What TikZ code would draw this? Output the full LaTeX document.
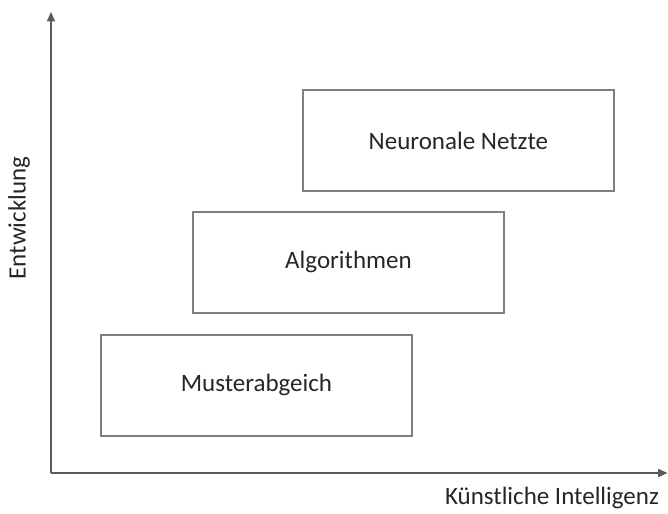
\documentclass[tikz,border=0pt]{standalone}
\usepackage{fontspec}
\setmainfont{Carlito}
\usetikzlibrary{arrows.meta}
\definecolor{boxline}{HTML}{7F7F7F}
\definecolor{axisline}{HTML}{5A5A5A}
\definecolor{txt}{HTML}{262626}
\begin{document}
\begin{tikzpicture}[x=0.75pt,y=-0.75pt,
  stage/.style={draw=boxline,line width=1.4pt,minimum width=311*0.75pt,
    minimum height=101*0.75pt,inner sep=0pt,text=txt,anchor=north west,
    font=\fontsize{18.75}{22}\selectfont},
  axis/.style={draw=axisline,line width=1.2pt,-{Triangle[length=7pt,width=6pt]}},
  axislabel/.style={text=txt,font=\fontsize{18.75}{22}\selectfont,inner sep=0pt}]
  \useasboundingbox (0,0) rectangle (668,514);
  % axes
  \coordinate (origin) at (51,473);
  \coordinate (ytop) at (51,12);
  \coordinate (xend) at (667.5,473);
  \draw[axis] (origin) -- (ytop);
  \draw[axis] (origin) -- (xend);
  % stages of development
  \node[stage] (nn) at (302,89) {Neuronale Netzte};
  \node[stage] (algo) at (192,211) {Algorithmen};
  \node[stage] (muster) at (100,334) {Musterabgeich};
  % axis labels
  \node[axislabel,rotate=90] (ylab) at (19,218) {Entwicklung};
  \node[axislabel] (xlab) at (552,498) {Künstliche Intelligenz};
\end{tikzpicture}
\end{document}
